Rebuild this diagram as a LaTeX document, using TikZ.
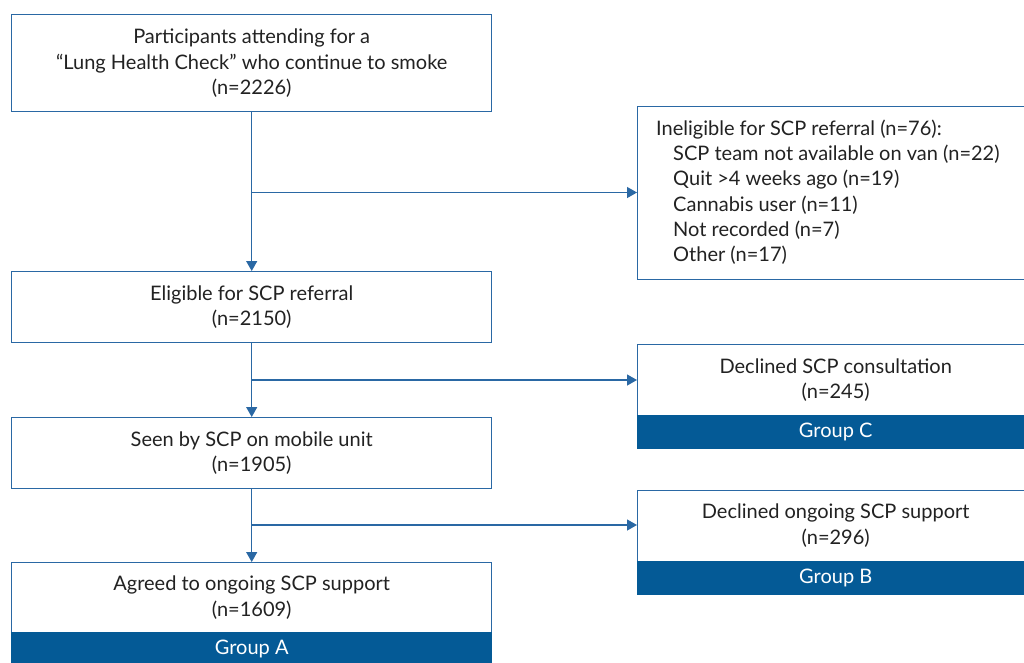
\documentclass[tikz,border=0pt]{standalone}
\usepackage{fontspec}
\setmainfont{Lato}
\usetikzlibrary{arrows.meta}
\definecolor{lineblue}{HTML}{2A68A4}
\definecolor{bandblue}{HTML}{045A96}
\definecolor{txt}{HTML}{222222}
\begin{document}
\begin{tikzpicture}[x=1pt,y=-1pt,
  box/.style={draw=lineblue, line width=1.4pt, fill=white, rectangle, anchor=north west, inner sep=0pt, text=txt, align=center, font=\fontsize{20}{25.5}\selectfont},
  band/.style={draw=bandblue, fill=bandblue, line width=1.4pt, rectangle, anchor=north west, inner sep=0pt, text=white, font=\fontsize{20}{25.5}\selectfont},
  conn/.style={draw=lineblue, line width=1.3pt},
  arr/.style={conn, -{Triangle[length=10pt,width=11pt]}}
]
\useasboundingbox (0,0) rectangle (1024,662);
\clip (0,0) rectangle (1024,662);
% left column
\node[box, minimum width=480pt, minimum height=97pt] (b1) at (11,14)
  {Participants attending for a\\``Lung Health Check'' who continue to smoke\\(n=2226)};
\node[box, minimum width=480pt, minimum height=71pt] (b2) at (11,271)
  {Eligible for SCP referral\\(n=2150)};
\node[box, minimum width=480pt, minimum height=71pt] (b3) at (11,417)
  {Seen by SCP on mobile unit\\(n=1905)};
\node[box, minimum width=480pt, minimum height=70pt] (b4) at (11,562)
  {Agreed to ongoing SCP support\\(n=1609)};
\node[band, minimum width=480pt, minimum height=32pt] (ga) at (11,632) {Group A};
% right column
\node[box, minimum width=396pt, minimum height=173pt] (inel) at (637,105.5) {};
\node[anchor=north west, inner sep=0pt, text=txt, align=left, font=\fontsize{20}{25.3}\selectfont] (inelt) at (656,119.5)
  {Ineligible for SCP referral (n=76):\\
   \hspace*{17pt}SCP team not available on van (n=22)\\
   \hspace*{17pt}Quit >4 weeks ago (n=19)\\
   \hspace*{17pt}Cannabis user (n=11)\\
   \hspace*{17pt}Not recorded (n=7)\\
   \hspace*{17pt}Other (n=17)};
\node[box, minimum width=396pt, minimum height=71pt] (dc) at (637,344)
  {Declined SCP consultation\\(n=245)};
\node[band, minimum width=396pt, minimum height=33pt] (gc) at (637,415) {Group C};
\node[box, minimum width=396pt, minimum height=71pt] (db) at (637,489.5)
  {Declined ongoing SCP support\\(n=296)};
\node[band, minimum width=396pt, minimum height=33pt] (gb) at (637,560.5) {Group B};
% connectors
\coordinate (j1) at (251,192.5);
\coordinate (j2) at (251,380);
\coordinate (j3) at (251,525);
\draw[arr] (b1.south) -- (b2.north);
\draw[arr] (b2.south) -- (b3.north);
\draw[arr] (b3.south) -- (b4.north);
\draw[arr] (j1) -- (inel.west |- j1);
\draw[arr] (j2) -- (dc.west |- j2);
\draw[arr] (j3) -- (db.west |- j3);
\end{tikzpicture}
\end{document}
